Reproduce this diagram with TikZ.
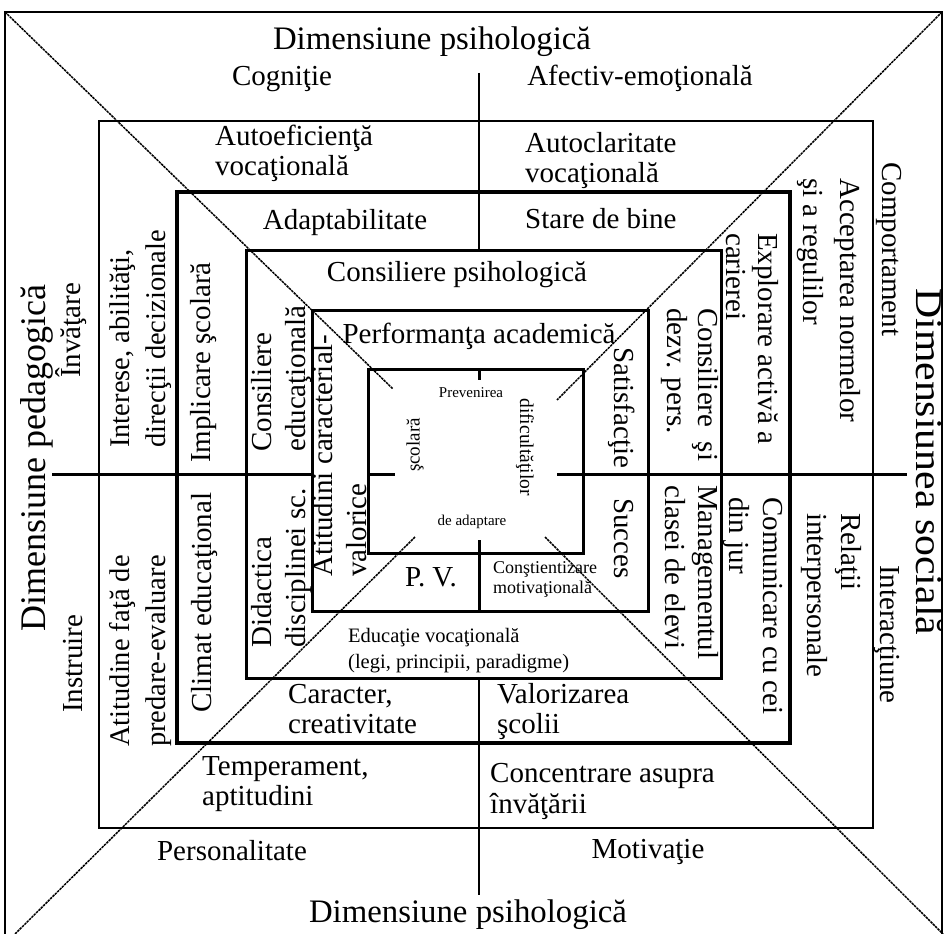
\documentclass[tikz,border=0pt]{standalone}
\usepackage{fontspec}
\usepackage{graphicx}
\setmainfont{Liberation Serif}
\begin{document}
\begin{tikzpicture}[x=1pt,y=-1pt,
  t/.style={inner sep=0pt, font=\fontsize{29}{31}\selectfont, align=left},
  hl/.style={t, anchor=base west},
  hc/.style={t, anchor=base},
  L/.style={t, rotate=90, anchor=base west},
  R/.style={t, rotate=-90, anchor=base west},
  diag/.style={line width=1.5pt, dash pattern=on 2.5pt off 0.8pt},
  thinframe/.style={line width=1.5pt},
  frameA/.style={line width=2pt},
  frameB/.style={line width=3.8pt},
  frameC/.style={line width=3pt},
  axis/.style={line width=3pt},
  axisthin/.style={line width=2pt}]
\useasboundingbox (0,0) rectangle (945,934);
\fill[white] (0,0) rectangle (945,934);
\clip (0,0) rectangle (945,934);
% frames
\draw[thinframe] (5,12) rectangle (942,940);
\draw[frameA] (99,121) rectangle (873,828);
\draw[frameB] (177,192) rectangle (790,743);
\draw[frameC] (246,250) rectangle (721,678);
\draw[frameC] (312,310) rectangle (648,611);
\draw[frameC] (368,369) rectangle (583,553);
% axes
\draw[axisthin] (479,73) -- (479,250);
\draw[axis] (479,369) -- (479,380);
\draw[axis] (479,540) -- (479,611);
\draw[axisthin] (479,678) -- (479,895);
\draw[axis] (52,474) -- (312,474);
\draw[axis] (368,474) -- (395,474);
\draw[axis] (557,474) -- (907,474);
% diagonals
\draw[diag] (5,12) -- (393,389);
\draw[diag] (942,12) -- (557,400);
\draw[diag] (545,537) -- (943,934);
\draw[diag] (415,537) -- (15,934);
% horizontal texts
\node[hc, font=\fontsize{32.8}{36}\selectfont] (tTop) at (432,49) {Dimensiune psihologică};
\node[hc] (cog) at (282,85) {Cogniţie};
\node[hc] (afe) at (640,85) {Afectiv-emoţională};
\node[hl, font=\fontsize{29}{30}\selectfont] (aef) at (215,175) {Autoeficienţă\\vocaţională};
\node[hl, font=\fontsize{29}{30}\selectfont] (acl) at (525,182) {Autoclaritate\\vocaţională};
\node[hc] (ada) at (345,229) {Adaptabilitate};
\node[hl] (sdb) at (525,228) {Stare de bine};
\node[hc] (cps) at (457,281) {Consiliere psihologică};
\node[hc] (per) at (479,343) {Performanţa academică};
\node[hc, font=\fontsize{15}{17}\selectfont] (prv) at (471,397) {Prevenirea};
\node[hc, font=\fontsize{15}{17}\selectfont] (dad) at (472,525) {de adaptare};
\node[inner sep=0pt, rotate=90, font=\fontsize{19}{21}\selectfont] (sco) at (415,445) {şcolară};
\node[inner sep=0pt, rotate=-90, font=\fontsize{19.5}{21}\selectfont] (dif) at (525,447) {dificultăţilor};
\node[hc] (pv) at (431,586) {P. V.};
\node[hl, font=\fontsize{18}{20}\selectfont] (con) at (493,593) {Conştientizare\\motivaţională};
\node[hl, font=\fontsize{20.5}{26}\selectfont] (edu) at (348,668) {Educaţie vocaţională\\(legi, principii, paradigme)};
\node[hl, font=\fontsize{29}{30}\selectfont] (car) at (288,733) {Caracter,\\creativitate};
\node[hl, font=\fontsize{29}{30}\selectfont] (val) at (497,733) {Valorizarea\\şcolii};
\node[hl, font=\fontsize{29}{30}\selectfont] (tem) at (202,805) {Temperament,\\aptitudini};
\node[hl] (cnc) at (490,813) {Concentrare asupra\\învăţării};
\node[hc] (pers) at (232,860) {Personalitate};
\node[hc] (mot) at (648,858) {Motivaţie};
\node[hc, font=\fontsize{32.8}{36}\selectfont] (tBot) at (468,922) {Dimensiune psihologică};
% left rotated texts
\node[L, font=\fontsize{36}{40}\selectfont] (tLeft) at (45,632) {Dimensiune pedagogică};
\node[L] (inv) at (80,378) {Învăţare};
\node[L] (ins) at (82,713) {Instruire};
\node[L, font=\fontsize{28.5}{36}\selectfont] (int) at (165,448) {Interese, abilităţi,\\direcţii decizionale};
\node[L] (imp) at (210,463) {Implicare şcolară};
\node[L, font=\fontsize{29}{34}\selectfont] (cse) at (305,452) {Consiliere\\educaţională};
\node[L] (cli) at (211,713) {Climat educaţional};
\node[L, font=\fontsize{28.5}{36}\selectfont] (atf) at (165,747) {Atitudine faţă de\\predare-evaluare};
\node[L, font=\fontsize{29}{34}\selectfont] (did) at (305,648) {Didactica\\disciplinei sc.};
\node[L, font=\fontsize{29}{34}\selectfont] (atv) at (366,577) {Atitudini caracterial-\\valorice};
% right rotated texts
\node[R, font=\fontsize{38}{40}\selectfont] (tRight) at (916,288) {\scalebox{1.1}[1]{Dimensiunea socială}};
\node[R] (cmp) at (882,162) {Comportament};
\node[R] (itr) at (880,565) {Interacţiune};
\node[R, font=\fontsize{29}{37}\selectfont] (acc) at (803,178) {Acceptarea normelor\\şi a regulilor};
\node[R, font=\fontsize{29}{32}\selectfont] (exp) at (726,233) {Explorare activă a\\carierei};
\node[R, font=\fontsize{29}{31}\selectfont] (csd) at (667,308) {Consiliere\ \ şi\\dezv. pers.};
\node[R] (sat) at (614,347) {Satisfacţie};
\node[R] (suc) at (614,498) {Succes};
\node[R, font=\fontsize{29}{33}\selectfont] (man) at (665,485) {Managementul\\clasei de elevi};
\node[R, font=\fontsize{29}{34}\selectfont] (com) at (729,497) {Comunicare cu cei\\din jur};
\node[R, font=\fontsize{29}{34}\selectfont] (rel) at (807,513) {Relaţii\\interpersonale};
\end{tikzpicture}
\end{document}
